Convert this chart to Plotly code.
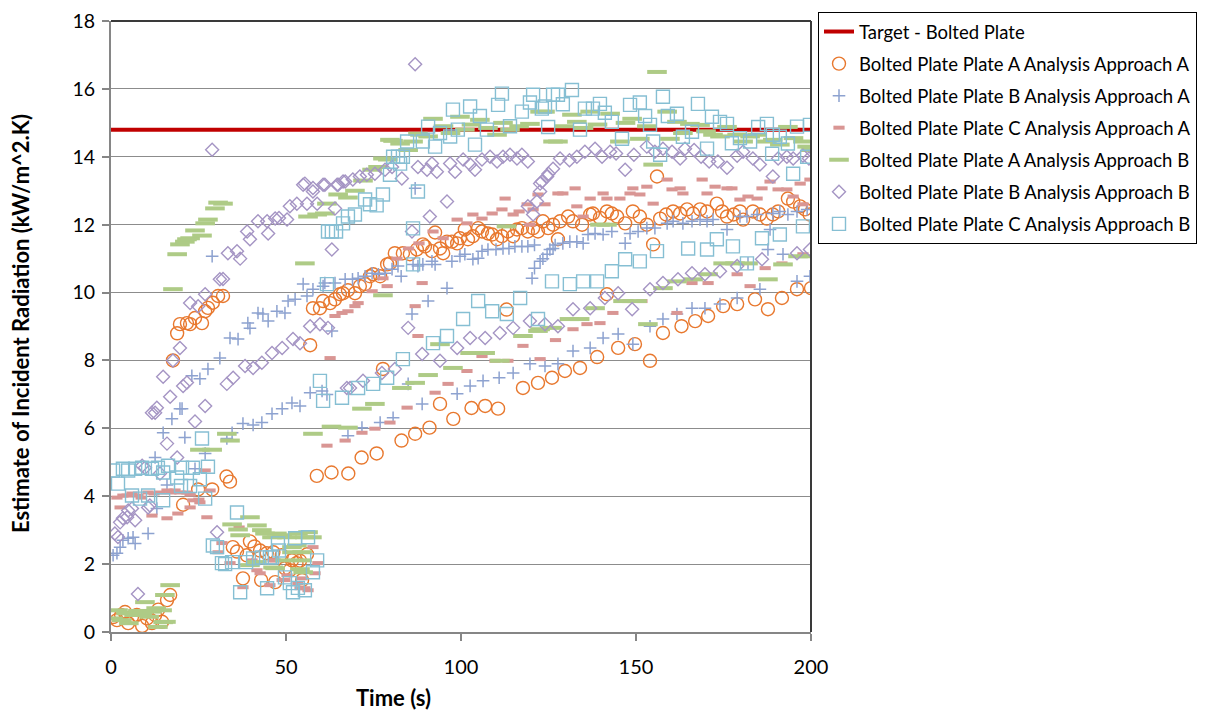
import plotly.graph_objects as go

# ---------------- data (time s, estimate kW/m^2.K) ----------------
target_t = [0, 200]
target_y = [14.8, 14.8]

# Bolted Plate Plate A Analysis Approach A (orange circles)
oa_t = [0.6,1.7,2.9,4.0,4.9,6.0,7.4,8.9,10.3,11.7,12.6,13.5,14.6,16.0,16.9,
        17.7,18.9,19.7,21.7,22.6,24.0,26.0,26.9,27.7,29.1,30.6,32.0,
        20.6,24.9,28.9,33.0,34.0,
        34.8,36.0,37.7,38.8,39.7,41.0,42.6,42.9,44.5,46.4,46.9,48.8,49.7,51.1,51.7,53.0,54.0,54.6,56.0,
        56.9,57.7,59.7,60.6,62.6,64.0,65.4,66.3,67.7,69.7,71.1,72.6,74.0,74.9,76.9,78.9,79.7,81.1,83.4,85.4,
        87.4,89.1,89.7,91.7,92.6,94.0,94.9,96.0,97.4,98.9,99.7,101.1,102.0,103.4,104.9,106.0,107.7,108.9,
        110.3,111.7,113.4,114.9,116.0,117.4,119.1,120.6,122.0,123.4,124.9,126.3,128.3,130.6,132.0,134.6,
        136.9,137.7,139.7,141.7,143.1,144.6,146.9,149.1,151.1,153.1,156.9,158.6,160.6,162.6,164.6,166.3,
        168.3,170.3,173.1,174.6,176.0,177.9,179.7,180.6,183.4,185.4,187.4,189.1,190.6,193.4,194.9,196.9,198.3,199.6,
        77.7,113.0,127.7,141.7,154.9,156.0,
        58.8,63.0,67.8,71.6,75.9,83.0,86.9,91.0,94.0,97.8,103.0,106.9,110.6,117.7,122.0,126.0,129.7,134.0,
        138.9,144.9,149.7,154.0,157.7,163.0,166.9,170.6,174.9,178.9,184.0,187.7,191.7,196.0,200.0]
oa_y = [0.44,0.35,0.5,0.59,0.26,0.45,0.5,0.18,0.4,0.26,0.5,0.66,0.3,0.94,1.09,
        8.0,8.8,9.07,9.1,9.07,9.25,9.1,9.45,9.55,9.7,9.9,9.9,
        3.75,4.2,4.2,4.58,4.43,
        2.5,2.37,1.58,2.26,2.67,2.52,2.4,1.53,2.32,2.35,1.47,2.26,1.88,1.82,2.11,2.03,2.1,1.53,2.29,
        8.45,9.54,9.54,9.75,9.69,9.8,9.95,9.98,10.07,9.98,10.19,10.25,10.48,10.54,10.48,10.83,10.86,11.16,11.16,11.13,
        11.27,11.42,11.36,11.22,11.77,11.3,11.16,11.5,11.5,11.45,11.6,11.86,11.57,11.66,11.9,11.8,11.74,11.71,
        11.57,11.66,11.8,11.66,11.86,11.9,11.8,11.9,11.8,12.1,11.9,12.0,12.1,12.24,12.1,12.0,
        12.3,12.33,12.2,12.39,12.33,12.24,12.04,12.39,12.24,12.0,12.18,12.3,12.39,12.33,12.45,12.33,
        12.45,12.39,12.62,12.39,12.24,12.3,12.39,12.15,12.39,12.3,12.18,12.3,12.39,12.77,12.68,12.54,12.45,12.3,
        7.75,9.5,11.57,9.95,11.42,13.42,
        4.6,4.7,4.67,5.14,5.26,5.64,5.84,6.02,6.72,6.28,6.6,6.66,6.58,7.19,7.34,7.49,7.69,7.78,
        8.1,8.37,8.48,7.99,8.81,9.01,9.16,9.31,9.6,9.66,9.8,9.51,9.84,10.1,10.13]

# Bolted Plate Plate B Analysis Approach A (blue crosses)
ba_t = [0.6,1.7,2.6,3.4,4.9,6.3,6.9,10.6,13.1,16.0,21.1,24.0,26.9,33.1,34.6,37.7,40.6,43.1,46.0,48.9,51.7,54.0,56.9,60.3,61.7,
        12.6,14.9,17.4,19.7,20.3,23.1,25.4,27.7,31.1,34.0,36.3,39.1,39.7,42.0,43.4,44.9,47.4,49.7,50.6,52.6,54.9,56.0,57.7,
        60.6,61.1,64.0,66.9,69.0,70.6,72.6,74.6,76.4,78.3,80.3,82.0,82.9,86.3,87.7,89.1,91.7,92.6,97.4,99.7,101.1,103.4,
        104.9,106.0,107.7,110.0,112.0,113.7,115.4,117.4,119.1,121.0,123.4,125.4,126.9,129.1,131.1,133.1,134.9,136.3,138.3,
        140.6,143.1,146.9,148.3,150.6,153.1,155.4,158.9,160.6,163.4,166.0,168.3,170.3,172.0,176.0,179.7,181.7,184.6,188.3,
        189.1,191.1,193.4,196.0,198.9,
        28.9,86.9,
        63.1,86.0,90.6,96.0,120.3,121.0,122.6,124.6,126.3,
        67.7,71.7,76.9,80.6,84.9,88.9,98.9,102.6,106.3,110.9,114.9,119.7,124.0,127.7,132.0,136.9,140.6,144.9,149.1,
        154.0,157.7,161.7,166.0,169.7,174.0,178.9,185.4,196.0,199.7,
        182.0,187.7,192.0]
ba_y = [2.26,2.32,2.5,2.7,2.76,2.79,2.61,2.9,3.64,4.33,5.73,4.81,5.26,5.7,5.87,6.14,6.1,6.17,6.43,6.58,6.75,6.66,7.05,7.1,7.0,
        5.14,5.87,6.28,6.58,6.58,7.55,7.46,7.75,8.07,8.66,8.63,9.1,8.95,9.4,9.37,9.16,9.45,9.4,9.75,9.8,10.25,9.9,10.1,
        10.19,10.28,10.28,10.39,10.39,10.42,10.48,10.57,10.54,10.57,10.69,10.78,10.48,10.83,10.78,10.83,10.92,10.83,10.92,11.07,11.13,10.98,
        11.01,11.22,11.27,11.27,11.3,11.3,11.36,11.36,11.36,11.4,11.0,11.27,11.4,11.45,11.5,11.5,11.45,11.71,11.74,
        11.71,11.8,11.45,11.74,11.8,11.9,11.9,12.04,12.1,12.04,12.1,12.15,12.1,12.15,11.86,12.24,12.24,12.3,11.86,
        12.33,12.39,12.3,12.39,12.45,
        11.07,13.07,
        8.87,9.37,9.75,10.13,10.42,10.72,10.92,11.13,11.3,
        5.78,6.02,6.17,6.31,7.31,6.72,7.02,7.25,7.4,7.49,7.63,7.9,7.84,7.9,8.28,8.37,8.66,8.78,8.48,
        9.01,9.22,9.37,9.54,9.54,9.66,9.84,10.1,10.33,10.48,
        10.86,11.27,11.13]

# Bolted Plate Plate C Analysis Approach A (pink dashes)
ca_t = [1.7,3.4,4.6,6.0,7.7,8.6,10.6,12.3,14.0,16.0,17.1,18.3,19.7,21.7,22.6,23.4,25.1,26.9,28.3,2.6,11.7,16.0,19.1,22.6,25.4,27.4,
        30.6,31.7,34.0,36.6,37.7,40.3,41.7,42.6,45.4,46.3,46.9,48.9,49.7,50.3,53.4,54.0,54.6,55.4,56.3,57.7,58.3,59.1,
        61.7,66.9,71.7,75.4,79.7,84.6,92.6,96.3,101.7,106.0,109.7,113.4,117.7,122.6,127.0,132.0,136.0,139.7,143.4,147.7,
        151.7,161.7,166.0,170.6,178.9,182.6,186.9,191.7,197.7,
        62.6,87.7,86.9,88.9,
        64.0,66.0,67.7,69.7,70.6,74.6,77.7,78.9,81.7,85.0,88.0,92.0,94.9,98.9,101.7,103.4,106.0,108.9,111.7,112.6,114.9,
        116.6,118.9,119.7,120.6,122.0,124.0,127.7,129.1,132.6,133.1,134.9,136.9,140.6,141.7,145.4,148.3,149.1,151.1,153.1,
        154.9,158.9,160.3,162.6,163.4,168.9,170.3,172.6,176.0,177.4,179.7,182.0,184.6,186.0,188.3,190.6,193.1,194.9,196.9,197.7,199.7]
ca_y = [3.96,4.02,4.02,4.08,4.02,3.96,4.11,4.08,4.11,4.17,4.11,4.17,4.11,4.11,4.05,3.88,3.9,4.76,4.17,3.67,3.43,3.35,3.49,3.67,3.82,3.38,
        2.35,2.62,2.03,3.08,1.32,2.11,1.82,1.73,1.38,2.11,2.11,1.53,1.53,1.67,1.44,1.29,1.58,1.29,1.23,2.5,1.73,2.03,
        5.49,5.64,5.87,5.99,6.17,6.61,7.05,7.31,7.69,8.13,7.99,7.99,8.43,8.04,8.6,8.92,9.07,9.1,9.4,9.75,
        9.75,9.4,10.28,10.28,10.54,10.19,10.72,10.86,11.13,
        8.07,8.72,9.6,10.28,
        9.31,9.4,9.45,9.6,9.69,10.04,10.42,10.19,11.0,11.3,11.45,11.8,11.6,12.15,12.04,12.3,12.18,12.33,12.45,12.77,12.3,
        12.39,12.6,12.0,12.45,12.89,12.6,12.92,12.92,13.07,12.54,12.24,12.77,12.92,12.77,12.77,12.92,13.07,12.89,13.12,
        12.62,13.33,13.04,13.07,12.92,13.33,12.92,13.12,13.07,13.07,12.74,12.83,12.77,13.07,13.27,13.04,13.04,12.83,13.21,12.6,13.33]

# Bolted Plate Plate A Analysis Approach B (green dashes)
ab_t = [0.6,2.0,3.1,4.3,5.1,6.6,7.7,8.9,9.7,10.9,11.7,12.9,13.4,14.6,14.9,15.7,15.4,16.9,
        17.7,18.9,19.7,21.1,21.7,22.6,24.0,26.0,26.9,27.7,29.7,30.6,32.0,
        25.4,28.9,33.1,34.0,
        34.6,36.3,36.9,39.7,41.7,43.1,44.0,46.0,47.4,48.9,50.3,51.7,53.1,53.4,54.6,55.4,56.3,57.4,39.7,41.7,46.3,46.9,
        49.7,51.7,54.0,54.6,54.9,
        57.7,63.0,67.7,71.7,75.4,83.1,86.9,90.6,94.0,97.7,102.6,106.9,111.1,117.7,122.0,122.6,126.0,131.0,133.9,138.3,
        146.3,150.3,153.4,157.7,161.7,166.3,170.6,174.9,178.3,182.0,187.7,192.0,196.3,198.9,
        55.4,77.7,113.0,139.7,141.7,
        56.3,58.9,61.1,61.7,64.9,67.7,69.7,72.0,74.6,76.3,77.7,79.1,79.7,80.6,82.6,84.9,86.3,87.7,88.3,90.6,92.0,95.0,
        97.0,99.7,101.1,103.0,105.4,107.7,110.3,112.0,114.0,116.6,119.7,122.6,124.0,126.3,127.7,129.4,131.7,133.1,135.0,
        136.9,139.0,142.6,145.4,147.0,148.9,151.1,153.1,154.9,156.0,158.9,159.7,161.7,163.4,165.4,168.3,170.0,172.0,174.0,
        176.0,178.9,180.6,182.6,184.6,187.4,189.1,191.1,193.4,195.0,197.7,198.9,200.0]
ab_y = [0.4,0.64,0.35,0.55,0.26,0.5,0.62,0.56,0.88,0.45,0.6,0.7,0.15,0.64,0.29,0.3,1.09,1.38,
        10.1,11.13,11.42,11.5,11.57,11.6,11.83,11.68,12.04,12.15,12.48,12.65,12.62,
        5.37,5.37,5.84,5.64,
        3.17,3.02,2.85,3.38,3.14,3.0,2.9,2.79,2.9,2.85,2.79,2.5,2.55,2.9,2.35,2.79,2.94,2.79,1.97,2.06,1.9,1.88,
        2.11,2.35,1.85,2.11,1.76,
        5.84,6.05,6.02,6.58,6.72,7.19,7.34,7.57,8.48,7.78,8.22,8.22,7.99,8.72,8.87,8.92,8.96,9.22,9.22,9.54,
        9.75,9.75,9.07,10.13,10.33,10.39,10.54,10.86,10.86,10.86,10.39,10.83,11.07,11.07,
        10.86,9.92,11.95,12.0,12.0,
        12.24,12.3,12.33,12.62,12.89,12.8,13.0,13.3,13.62,13.7,13.95,13.92,14.5,14.47,14.39,14.2,14.45,14.68,14.65,14.6,15.12,14.9,
        14.7,15.18,14.8,14.95,15.09,14.85,14.65,15.0,14.8,14.9,14.97,15.33,15.33,14.45,14.45,14.9,15.24,15.03,14.85,
        15.33,14.95,15.27,14.45,15.0,15.12,14.53,14.9,13.77,16.5,15.33,14.53,15.03,14.7,14.97,14.94,14.75,14.65,14.6,
        14.88,14.65,14.45,14.6,14.65,14.45,14.5,14.36,14.88,14.55,14.45,14.3,14.2]

# Bolted Plate Plate B Analysis Approach B (purple diamonds)
bb_t = [1.1,2.0,2.6,3.4,4.6,4.9,6.0,6.9,10.6,11.1,
        8.9,9.7,14.0,16.0,18.9,24.0,26.9,
        11.7,12.6,13.1,14.9,16.9,17.7,19.7,20.6,21.7,22.6,24.9,26.9,31.1,32.0,33.4,36.0,36.9,38.9,39.7,42.0,44.6,44.9,
        46.9,48.0,50.3,51.1,53.1,54.9,56.0,57.7,58.9,60.6,64.0,64.6,66.3,
        33.1,34.9,38.3,40.6,43.1,46.0,48.9,52.0,54.0,56.9,59.7,62.0,
        67.4,68.3,72.0,77.4,81.1,84.9,88.9,94.0,98.9,102.6,106.9,111.1,114.9,119.7,124.0,127.7,132.0,136.9,141.1,144.9,
        148.9,154.0,157.7,162.0,166.0,169.7,174.0,178.9,186.0,196.0,199.7,
        55.4,57.7,61.1,64.9,66.9,69.1,71.1,73.1,75.4,78.3,80.3,83.1,87.7,90.3,91.7,93.1,96.9,98.3,100.6,102.6,104.0,106.0,
        108.3,110.3,112.0,114.0,116.0,117.4,119.1,122.6,124.6,126.3,128.3,131.0,133.1,135.4,138.3,140.3,142.6,144.3,146.9,
        149.4,153.1,155.4,157.7,160.3,162.6,164.0,166.6,168.6,170.9,173.4,176.0,178.9,180.6,183.4,185.4,189.1,190.6,193.1,
        194.9,197.7,199.4,
        63.1,86.0,91.1,96.0,119.1,120.6,121.7,122.6,123.1,125.0,
        28.9,86.9,7.7,30.3]
bb_y = [2.9,2.8,3.23,3.35,3.38,3.58,3.64,3.29,3.67,3.73,
        4.9,4.84,4.67,5.55,5.14,6.2,6.66,
        6.46,6.46,6.61,7.52,6.93,8.0,8.37,7.25,7.35,9.69,9.6,9.95,10.39,10.4,11.16,11.22,11.0,11.8,11.57,12.1,12.1,11.74,
        12.18,12.2,12.15,12.54,12.62,13.18,12.62,12.98,12.62,13.18,12.48,13.18,13.27,
        7.31,7.49,7.84,7.78,7.93,8.22,8.37,8.63,8.51,9.01,9.07,8.96,
        7.19,7.19,7.4,7.63,7.75,8.96,8.19,7.99,8.37,8.66,8.66,8.81,8.96,9.16,9.07,9.01,9.51,9.54,9.84,9.98,
        9.51,10.1,10.28,10.39,10.57,10.54,10.63,10.78,10.98,11.16,11.27,
        13.21,13.08,13.18,13.18,13.27,13.33,13.42,13.47,13.5,13.62,13.7,13.36,13.7,13.62,13.8,13.56,13.8,13.56,13.92,13.77,13.62,13.92,
        14.0,13.86,14.0,14.06,13.95,14.06,13.86,13.21,13.42,13.65,13.95,13.9,14.0,14.15,14.24,14.0,14.15,14.1,13.62,
        14.06,14.3,14.15,14.24,14.15,13.95,14.24,14.2,14.0,13.86,13.86,13.68,14.03,14.15,13.95,13.77,13.42,13.95,14.0,
        13.95,14.03,13.95,
        11.27,11.8,12.24,12.68,12.54,12.3,12.68,12.98,13.27,13.5,
        14.21,16.73,1.12,2.94]

# Bolted Plate Plate C Analysis Approach B (aqua squares)
cb_t = [0.6,2.0,3.4,4.9,6.9,8.9,11.7,13.4,14.9,16.3,18.9,20.3,22.6,23.4,25.4,27.7,26.0,6.0,8.3,10.6,14.9,20.0,26.9,
        29.1,30.3,31.7,32.6,34.6,36.0,36.9,38.6,40.6,43.1,44.6,46.0,47.7,49.7,51.1,52.0,52.6,53.4,55.4,56.3,57.7,58.9,45.4,48.0,
        59.7,60.6,66.0,70.6,74.9,78.9,83.4,92.0,96.0,100.6,104.9,108.9,113.1,116.9,122.0,126.0,131.1,134.9,138.9,143.1,
        146.9,151.1,156.0,164.9,170.3,173.1,177.7,181.7,186.0,191.1,197.7,
        61.7,62.0,63.1,64.3,66.3,67.7,69.7,72.6,74.0,75.9,77.7,79.7,82.6,86.3,86.3,87.7,
        80.6,82.0,83.4,84.6,89.1,90.6,92.6,94.0,96.9,97.7,99.1,102.6,104.0,105.4,107.4,110.6,111.7,114.0,117.4,119.7,
        120.6,123.1,124.9,126.3,124.0,127.7,129.1,131.7,134.0,135.4,137.7,139.7,141.1,143.1,146.0,148.3,151.1,152.6,154.0,
        154.9,156.9,157.7,159.1,161.7,163.4,166.0,167.7,170.3,171.7,174.0,176.0,177.4,179.7,182.6,184.9,187.4,188.9,189.1,
        191.1,193.4,194.9,196.0,198.9,199.7]
cb_y = [4.76,4.37,4.81,4.76,4.81,4.84,4.81,4.84,4.7,4.9,4.55,4.84,4.3,4.84,4.5,4.87,5.7,4.02,3.93,4.02,3.88,4.3,3.93,
        2.55,2.5,2.03,2.0,2.06,3.52,1.17,2.06,2.17,2.2,1.29,2.2,2.61,1.61,1.44,1.17,2.76,1.3,1.23,2.79,1.76,2.11,2.2,2.4,
        7.4,6.81,6.9,7.19,7.31,7.49,8.04,8.51,8.72,9.22,9.75,9.45,9.37,9.84,9.22,10.33,10.25,10.33,10.33,10.63,
        10.98,10.92,11.22,11.3,11.27,11.57,11.36,10.86,11.6,11.71,11.95,
        10.25,11.8,11.8,11.8,12.04,12.24,12.3,12.74,12.6,12.57,12.89,13.47,13.8,11.89,10.83,12.98,
        14.0,14.0,14.0,14.45,14.45,14.89,14.3,14.7,14.6,15.39,14.8,15.48,14.36,15.2,14.8,15.53,15.86,14.9,15.33,15.6,
        15.83,15.42,14.88,15.83,15.48,15.83,15.55,15.97,14.8,15.42,15.42,15.56,15.3,15.03,14.53,15.53,15.6,15.2,14.94,
        14.45,14.06,15.77,15.2,15.27,14.59,14.74,15.56,14.24,15.18,15.03,14.97,14.4,14.55,14.45,14.88,14.97,14.09,14.65,
        14.59,14.39,13.5,14.89,14.0,14.94]

names = ["Target - Bolted Plate",
         "Bolted Plate Plate A Analysis Approach A",
         "Bolted Plate Plate B Analysis Approach A",
         "Bolted Plate Plate C Analysis Approach A",
         "Bolted Plate Plate A Analysis Approach B",
         "Bolted Plate Plate B Analysis Approach B",
         "Bolted Plate Plate C Analysis Approach B"]

FONT = "Lato"
fig = go.Figure()

fig.add_trace(go.Scatter(x=target_t, y=target_y, mode="lines", name=names[0],
                         line=dict(color="#C00000", width=4), legendgroup="g0"))

fig.add_trace(go.Scatter(x=oa_t, y=oa_y, mode="markers", name=names[1], legendgroup="g1",
                         marker=dict(symbol="circle-open", size=13, color="#E8782E",
                                     line=dict(width=1.4, color="#E8782E"))))
fig.add_trace(go.Scatter(x=ba_t, y=ba_y, mode="markers", name=names[2], legendgroup="g2",
                         marker=dict(symbol="cross-thin", size=9, color="#8DA2D0",
                                     line=dict(width=1.5, color="#8DA2D0"))))
fig.add_trace(go.Scatter(x=ca_t, y=ca_y, mode="markers", name=names[3], legendgroup="g3",
                         marker=dict(symbol="line-ew", size=8, color="#D99694",
                                     line=dict(width=4, color="#D99694"))))
fig.add_trace(go.Scatter(x=ab_t, y=ab_y, mode="markers", name=names[4], legendgroup="g4",
                         marker=dict(symbol="line-ew", size=14, color="#AECB86",
                                     line=dict(width=4, color="#AECB86"))))
fig.add_trace(go.Scatter(x=bb_t, y=bb_y, mode="markers", name=names[5], legendgroup="g5",
                         marker=dict(symbol="diamond-open", size=10, color="#A595C4",
                                     line=dict(width=1.4, color="#A595C4"))))
fig.add_trace(go.Scatter(x=cb_t, y=cb_y, mode="markers", name=names[6], legendgroup="g6",
                         marker=dict(symbol="square-open", size=13, color="#86BFD3",
                                     line=dict(width=1.4, color="#86BFD3"))))

# page body has an 8px default margin, so the figure is 8px smaller and offset accordingly
W, H = 1207, 703
L, T = 103, 13
PW, PH = 700, 611

fig.update_layout(
    width=W, height=H,
    margin=dict(l=L, r=W - L - PW, t=T, b=H - T - PH, autoexpand=False),
    paper_bgcolor="white", plot_bgcolor="white",
    font=dict(family=FONT, color="black"),
    showlegend=True,
    legend=dict(x=(810 - 103) / PW, xanchor="left", y=1 + 9 / PH, yanchor="top",
                bordercolor="black", borderwidth=1, bgcolor="white",
                font=dict(family=FONT, size=18.5, color="black"),
                itemwidth=30, tracegroupgap=5, traceorder="grouped"),
    xaxis=dict(range=[0, 200], tickvals=[0, 50, 100, 150, 200], showgrid=False, zeroline=False,
               showline=True, linecolor="#868686", linewidth=2,
               ticks="outside", ticklen=7, tickcolor="#868686", tickwidth=2,
               tickfont=dict(family=FONT, size=20, color="black"), ticklabelstandoff=9,
               ticklabeloverflow="allow"),
    yaxis=dict(range=[0, 18.001], tickvals=list(range(0, 19, 2)), showgrid=True, gridcolor="#8C8C8C",
               gridwidth=1.2, zeroline=False,
               showline=True, linecolor="#868686", linewidth=2,
               ticks="outside", ticklen=7, tickcolor="#868686", tickwidth=2,
               tickfont=dict(family=FONT, size=19.5, color="black"), ticklabelstandoff=3,
               ticklabeloverflow="allow"),
    shapes=[
        dict(type="line", xref="paper", yref="paper", x0=0, x1=1, y0=1, y1=1,
             line=dict(color="#3A3A3A", width=2)),
        dict(type="line", xref="paper", yref="paper", x0=1, x1=1, y0=0, y1=1,
             line=dict(color="#3A3A3A", width=2)),
    ],
    annotations=[
        dict(text="Estimate of Incident Radiation (kW/m^2.K)", textangle=-90,
             xref="paper", yref="paper", x=(12 - 103) / PW, y=0.504,
             xanchor="center", yanchor="middle", showarrow=False,
             font=dict(family=FONT, size=22, color="black", weight="bold")),
        dict(text="Time (s)", xref="paper", yref="paper", x=(385 - 103) / PW, y=(624 - 689) / PH,
             xanchor="center", yanchor="middle", showarrow=False,
             font=dict(family=FONT, size=22, color="black", weight="bold")),
    ],
)

fig.write_html("out.html")
